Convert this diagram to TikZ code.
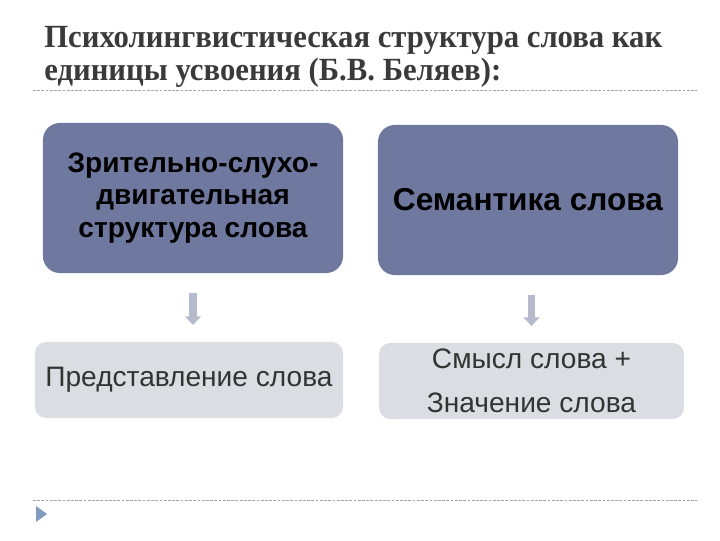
\documentclass[tikz,border=0pt]{standalone}
\usepackage{fontspec}
\setmainfont{Liberation Sans}
\newfontfamily\titlefont[FakeStretch=0.95]{Liberation Serif}
\usetikzlibrary{positioning,arrows.meta}

\definecolor{darkbox}{HTML}{6F79A0}
\definecolor{lightbox}{HTML}{DCDDE2}
\definecolor{arrowgray}{HTML}{B6BACC}
\definecolor{titlegray}{HTML}{3A3A3A}
\definecolor{bulletblue}{HTML}{7F9BC0}

\tikzset{
  topbox/.style={fill=darkbox, rounded corners=12pt, minimum width=7.5cm,
    minimum height=3.75cm, align=center, font=\bfseries, inner sep=0pt},
  lowbox/.style={fill=lightbox, rounded corners=8pt, minimum height=1.9cm,
    align=center, inner sep=0pt, text=black!80},
  blockarrow/.style={line width=5pt, arrowgray, -{Triangle[length=6pt,width=11pt]},
    shorten <=0.48cm, shorten >=0.42cm},
  sepline/.style={gray!70, dash pattern=on 2pt off 1pt, line width=0.6pt}
}

\begin{document}
\begin{tikzpicture}[x=0.025cm, y=-0.025cm]
  \useasboundingbox (0,0) rectangle (720,540);

  % заголовок
  \node[anchor=base west, inner sep=0pt, text=titlegray,
    font=\titlefont\bfseries\fontsize{23}{28}\selectfont] (t1) at (44,47)
    {Психолингвистическая структура слова как};
  \node[anchor=base west, inner sep=0pt, text=titlegray,
    font=\titlefont\bfseries\fontsize{23}{28}\selectfont] (t2) at (44,80)
    {единицы усвоения (Б.В. Беляев):};

  % линии
  \draw[sepline] (33,90) -- (697,90);
  \draw[sepline] (33,500) -- (697,500);
  \fill[bulletblue] (36,506) -- (47,514) -- (36,522) -- cycle;

  % блоки
  \node[topbox, font=\bfseries\fontsize{20}{23}\selectfont] (zr) at (193,198)
    {Зрительно-слухо-\\двигательная\\структура слова};
  \node[topbox, font=\bfseries\fontsize{22.5}{26}\selectfont] (sem) at (528,200)
    {Семантика слова};
  \node[lowbox, minimum width=7.7cm, font=\fontsize{20}{24}\selectfont] (pr) at (189,380)
    {Представление слова};
  \node[lowbox, minimum width=7.62cm, font=\fontsize{20}{31}\selectfont] (sm) at (531.5,381)
    {Смысл слова +\\Значение слова};

  % стрелки
  \draw[blockarrow] (zr.south) -- (zr.south |- pr.north);
  \draw[blockarrow] (sem.south -| sm.north) -- (sm.north);

\end{tikzpicture}
\end{document}
